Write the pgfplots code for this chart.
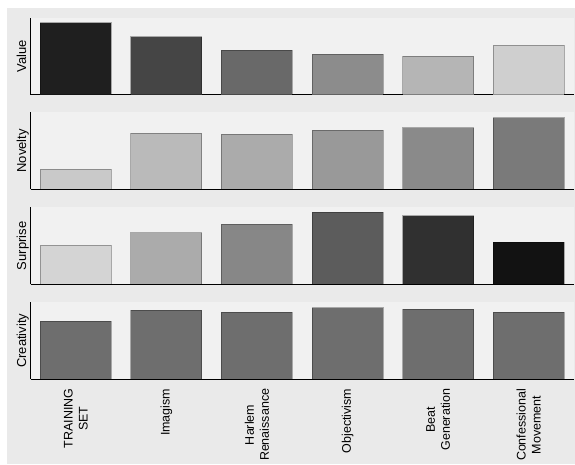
\documentclass[border=0pt]{standalone}
\usepackage{fontspec}
\setmainfont{Liberation Sans}
\usepackage{pgfplots}
\pgfplotsset{compat=1.18}

\definecolor{bg}{HTML}{EAEAEA}
\definecolor{panelbg}{HTML}{F1F1F1}

\pgfplotsset{
  panel/.style={
    scale only axis, width=543.5bp, height=77bp,
    xmin=-0.5, xmax=5.5, ymin=0, ymax=1,
    axis x line=bottom, axis y line=left,
    axis line style={-, line width=1.2bp, black},
    xtick={0,...,5}, xticklabels={}, ytick=\empty,
    major tick length=0pt,
    ybar, bar width=71bp, bar shift=0pt,
    axis background/.style={fill=panelbg},
    ylabel style={at={([xshift=-4.5bp]axis description cs:0,0.5)}, anchor=base,
      font=\fontsize{13bp}{15bp}\selectfont},
  },
  b/.style={fill=black!#1, draw=black, draw opacity=0.3, line width=0.8bp},
}

\begin{document}
\begin{tikzpicture}
\fill[white] (0,0) rectangle (575bp,-464bp);
\fill[bg] (7bp,-8bp) rectangle (575bp,-464bp);

% Value
\begin{axis}[panel, at={(30.5bp,-94.5bp)}, anchor=south west, ylabel={Value}]
\addplot[b=88] coordinates {(0,0.93)};
\addplot[b=73] coordinates {(1,0.75)};
\addplot[b=59] coordinates {(2,0.575)};
\addplot[b=45] coordinates {(3,0.523)};
\addplot[b=29] coordinates {(4,0.50)};
\addplot[b=19] coordinates {(5,0.64)};
\end{axis}

% Novelty
\begin{axis}[panel, at={(30.5bp,-189.4bp)}, anchor=south west, ylabel={Novelty}]
\addplot[b=21] coordinates {(0,0.26)};
\addplot[b=27] coordinates {(1,0.73)};
\addplot[b=33] coordinates {(2,0.72)};
\addplot[b=40] coordinates {(3,0.77)};
\addplot[b=46] coordinates {(4,0.80)};
\addplot[b=52] coordinates {(5,0.93)};
\end{axis}

% Surprise
\begin{axis}[panel, at={(30.5bp,-284.3bp)}, anchor=south west, ylabel={Surprise}]
\addplot[b=17] coordinates {(0,0.51)};
\addplot[b=33] coordinates {(1,0.67)};
\addplot[b=47] coordinates {(2,0.78)};
\addplot[b=64] coordinates {(3,0.94)};
\addplot[b=81] coordinates {(4,0.89)};
\addplot[b=93] coordinates {(5,0.55)};
\end{axis}

% Creativity
\begin{axis}[panel, at={(30.5bp,-379.2bp)}, anchor=south west, ylabel={Creativity},
  xticklabels={TRAINING\\SET, Imagism, Harlem\\Renaissance, Objectivism, Beat\\Generation, Confessional\\Movement},
  xticklabel shift=6bp,
  xticklabel style={rotate=90, anchor=east, align=center,
    font=\fontsize{12.5bp}{15bp}\selectfont}]
\addplot[b=57] coordinates {(0,0.75)};
\addplot[b=57] coordinates {(1,0.90)};
\addplot[b=57] coordinates {(2,0.87)};
\addplot[b=57] coordinates {(3,0.93)};
\addplot[b=57] coordinates {(4,0.91)};
\addplot[b=57] coordinates {(5,0.87)};
\end{axis}
\end{tikzpicture}
\end{document}
